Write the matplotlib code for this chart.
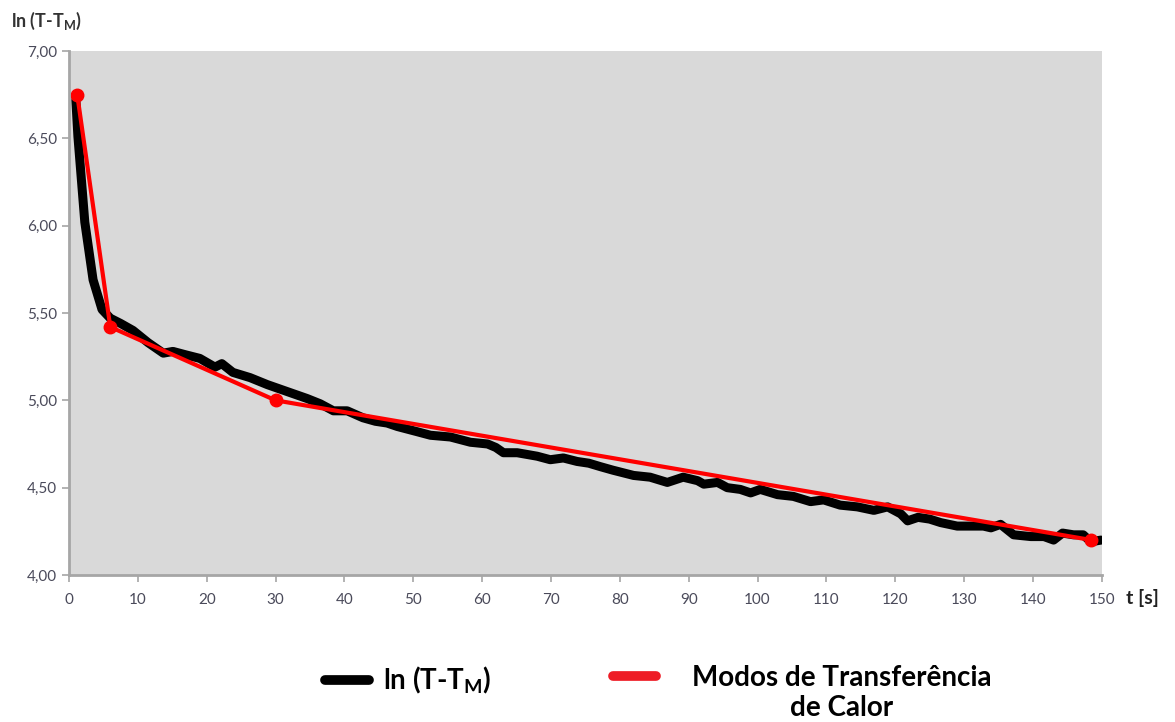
import matplotlib
matplotlib.use("Agg")
import matplotlib.pyplot as plt
from matplotlib.lines import Line2D
from matplotlib.ticker import FuncFormatter

plt.rcParams['font.family'] = ['Lato', 'DejaVu Sans']

# medição: ln(T - T_M) ao longo do tempo
t_med = [1, 1.3, 2.3, 3.5, 4.8, 6, 7.5, 9.3, 11.5, 13.7,
         15.1, 17, 19, 21.2, 22.2, 23.8, 26.3, 28.8, 31.7, 34.6,
         36.5, 38.4, 40.4, 42.7, 44.5, 46.2, 47.7, 50.6, 52.5, 55.4,
         58.3, 60.8, 62, 63.1, 65.1, 68, 69.9, 71.8, 73.8, 75.5,
         77.2, 79, 82, 84.4, 86.9, 89.2, 91.3, 92.2, 94.2, 95.6,
         97.5, 99, 100.4, 102.9, 105.2, 107.7, 109.6, 112, 114.5, 116.9,
         118.9, 120.8, 121.8, 123.3, 125, 126.6, 129, 131, 132.8, 133.9,
         135.3, 137.2, 139.7, 141.6, 143, 144.3, 145.9, 147.3, 148.4, 149.9]
ln_med = [6.72, 6.51, 6.02, 5.69, 5.52, 5.47, 5.44, 5.40, 5.33, 5.27,
          5.28, 5.26, 5.24, 5.19, 5.21, 5.16, 5.13, 5.09, 5.05, 5.01,
          4.98, 4.94, 4.94, 4.90, 4.88, 4.87, 4.85, 4.82, 4.80, 4.79,
          4.76, 4.75, 4.73, 4.70, 4.70, 4.68, 4.66, 4.67, 4.65, 4.64,
          4.62, 4.60, 4.57, 4.56, 4.53, 4.56, 4.54, 4.52, 4.53, 4.50,
          4.49, 4.47, 4.49, 4.46, 4.45, 4.42, 4.43, 4.40, 4.39, 4.37,
          4.39, 4.35, 4.31, 4.33, 4.32, 4.30, 4.28, 4.28, 4.28, 4.27,
          4.29, 4.23, 4.22, 4.22, 4.20, 4.24, 4.23, 4.23, 4.19, 4.20]

# modos de transferência de calor (segmentos)
t_modos = [1.2, 6, 30, 148.5]
ln_modos = [6.75, 5.42, 5.00, 4.20]

x_ticks = list(range(0, 151, 10))
y_ticks = [4.0, 4.5, 5.0, 5.5, 6.0, 6.5, 7.0]

fig = plt.figure(figsize=(11.75, 7.22), dpi=100)
ax = fig.add_axes([0.0587, 0.2036, 0.879, 0.7258])
ax.set_facecolor('#d9d9d9')

ax.plot(t_med, ln_med, color='black', lw=6.5, solid_capstyle='round', solid_joinstyle='round')
ax.plot(t_modos, ln_modos, color='#ff0000', lw=3, marker='o', markersize=9)

ax.set_xlim(0, 150)
ax.set_ylim(4, 7)
ax.set_xticks(x_ticks)
ax.set_yticks(y_ticks)
ax.yaxis.set_major_formatter(FuncFormatter(lambda v, p: f"{v:.2f}".replace('.', ',')))

for s in ['top', 'right']:
    ax.spines[s].set_visible(False)
for s in ['left', 'bottom']:
    ax.spines[s].set_color('#a6a6a6')
    ax.spines[s].set_linewidth(2)
ax.tick_params(colors='#a6a6a6', length=5, width=1.2, labelcolor='#4a4a5a', labelsize=11)
ax.tick_params(axis='x', pad=8)

fig.text(0.009, 0.962, r"ln (T-T$\mathregular{_M}$)", fontsize=13, fontweight='bold', color='#333333')
fig.text(0.958, 0.172, "t [s]", fontsize=14, fontweight='bold', color='#222222', va='center')

# legenda desenhada à mão
fig.add_artist(Line2D([0.277, 0.314], [0.058, 0.058], color='black', lw=7, solid_capstyle='round'))
fig.text(0.326, 0.058, r"ln (T-T$\mathregular{_M}$)", fontsize=20, fontweight='bold', va='center')
fig.add_artist(Line2D([0.522, 0.558], [0.064, 0.064], color='#ee1c25', lw=7, solid_capstyle='round'))
fig.text(0.716, 0.040, "Modos de Transferência\nde Calor", fontsize=20, fontweight='bold',
         ha='center', va='center', multialignment='center', linespacing=1.2)

fig.savefig('out.png', dpi=100)
